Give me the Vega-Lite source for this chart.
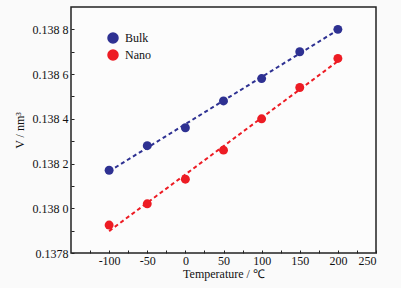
{
  "$schema": "https://vega.github.io/schema/vega-lite/v6.json",
  "width": 305,
  "height": 246,
  "autosize": {"type": "none"},
  "padding": {"left": 71, "top": 7, "right": 25, "bottom": 35},
  "background": "#fafafa",
  "config": {
    "font": "Liberation Serif",
    "view": {"stroke": "#222222", "strokeWidth": 1.5, "fill": "#fcfcfc"}
  },
  "data": {
    "values": [
      {"T": -100, "V": 0.13817, "series": "Bulk"},
      {"T": -50, "V": 0.13828, "series": "Bulk"},
      {"T": 0, "V": 0.13836, "series": "Bulk"},
      {"T": 50, "V": 0.13848, "series": "Bulk"},
      {"T": 100, "V": 0.13858, "series": "Bulk"},
      {"T": 150, "V": 0.13870, "series": "Bulk"},
      {"T": 200, "V": 0.13880, "series": "Bulk"},
      {"T": -100, "V": 0.137925, "series": "Nano"},
      {"T": -50, "V": 0.13802, "series": "Nano"},
      {"T": 0, "V": 0.13813, "series": "Nano"},
      {"T": 50, "V": 0.13826, "series": "Nano"},
      {"T": 100, "V": 0.13840, "series": "Nano"},
      {"T": 150, "V": 0.13854, "series": "Nano"},
      {"T": 200, "V": 0.13867, "series": "Nano"}
    ]
  },
  "encoding": {
    "x": {
      "field": "T", "type": "quantitative",
      "scale": {"domain": [-150, 250], "nice": false, "zero": false},
      "axis": {
        "title": "Temperature / ℃",
        "values": [-125, -100, -75, -50, -25, 0, 25, 50, 75, 100, 125, 150, 175, 200, 225, 250],
        "labelExpr": "datum.value % 50 == 0 ? (datum.value < 0 ? '-' + abs(datum.value) : '' + datum.value) : ''",
        "grid": false, "domain": false,
        "tickSize": -3, "tickColor": "#222222", "tickWidth": 1,
        "labelPadding": 5, "labelFontSize": 12, "labelColor": "#111111",
        "titleFontSize": 12, "titleFontWeight": "normal", "titleColor": "#111111", "titlePadding": 2
      }
    },
    "y": {
      "field": "V", "type": "quantitative",
      "scale": {"domain": [0.1378, 0.1389], "nice": false, "zero": false},
      "axis": {
        "title": "V / nm³",
        "values": [0.1378, 0.1379, 0.138, 0.1381, 0.1382, 0.1383, 0.1384, 0.1385, 0.1386, 0.1387, 0.1388],
        "labelExpr": "(round(datum.value * 10000) % 2 == 0) ? (datum.value < 0.13785 ? '0.1378' : slice(format(datum.value, '.4f'), 0, 5) + ' ' + slice(format(datum.value, '.4f'), 5)) : ''",
        "grid": false, "domain": false,
        "tickSize": -3, "tickColor": "#222222", "tickWidth": 1,
        "labelPadding": 6, "labelFontSize": 12, "labelColor": "#111111",
        "titleFontSize": 12, "titleFontWeight": "normal", "titleColor": "#111111", "titlePadding": 6
      }
    },
    "color": {
      "field": "series", "type": "nominal",
      "scale": {"domain": ["Bulk", "Nano"], "range": ["#2E3192", "#ED1C24"]},
      "legend": {
        "title": null, "orient": "none", "legendX": 36, "legendY": 25,
        "symbolType": "circle", "symbolSize": 100, "symbolOpacity": 1,
        "labelFontSize": 12, "labelColor": "#111111", "rowPadding": 1, "labelOffset": 6
      }
    }
  },
  "layer": [
    {
      "transform": [{"regression": "V", "on": "T", "groupby": ["series"], "method": "linear", "extent": [-100, 200]}],
      "mark": {"type": "line", "strokeDash": [4, 3], "strokeWidth": 2}
    },
    {
      "mark": {"type": "point", "filled": true, "size": 80, "opacity": 1}
    }
  ]
}
